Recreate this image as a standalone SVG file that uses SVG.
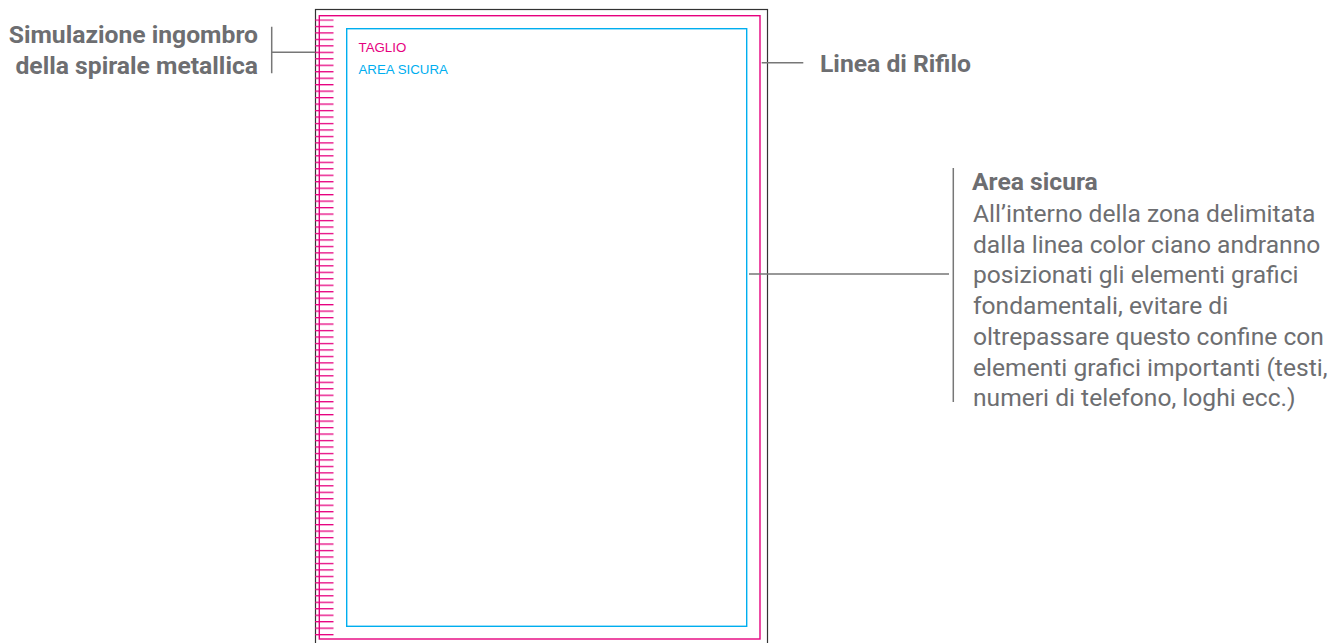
<svg xmlns="http://www.w3.org/2000/svg" width="1339" height="643" viewBox="0 0 1339 643">
<style>
.lbl{font-family:Roboto,"Liberation Sans",sans-serif;fill:#6d6e71}
.b{font-weight:bold;font-size:24.7px}
.r{font-size:24.6px}
.conn{stroke:#777;stroke-width:1.5;fill:none}
.small{font-family:"Liberation Sans",Arial,sans-serif;font-size:13.3px}
</style>
<defs>
<pattern id="spiral" x="0" y="19.35" width="20" height="6.47" patternUnits="userSpaceOnUse">
<rect x="0" y="0" width="20" height="1.3" fill="#e6007e"/>
</pattern>
</defs>
<rect width="1339" height="643" fill="#fff"/>
<g id="page">
<rect x="315.5" y="9.5" width="452" height="660" fill="none" stroke="#333" stroke-width="1.2"/>
<rect x="315" y="19.3" width="18.5" height="617" fill="url(#spiral)"/>
<rect x="319.3" y="15.7" width="440.7" height="623.3" fill="none" stroke="#e6007e" stroke-width="1.4"/>
<rect x="346.7" y="28.7" width="400" height="597.6" fill="none" stroke="#00aeef" stroke-width="1.4"/>
<text class="small" x="358.5" y="52" fill="#e6007e">TAGLIO</text>
<text class="small" x="358.5" y="73.5" fill="#00aeef">AREA SICURA</text>
</g>
<g id="connectors">
<path class="conn" d="M271.7 26.7V73.3M271.7 52.3H315"/>
<path class="conn" d="M761.7 62.7H803.3"/>
<path class="conn" d="M749 274H949M953.3 168V402"/>
</g>
<g id="label-spirale">
<text class="lbl b" x="258" y="43" text-anchor="end">Simulazione ingombro</text>
<text class="lbl b" x="258" y="73.5" text-anchor="end">della spirale metallica</text>
</g>
<g id="label-rifilo">
<text class="lbl b" x="820" y="72">Linea di Rifilo</text>
</g>
<g id="label-area">
<text class="lbl b" x="972" y="190">Area sicura</text>
<text class="lbl r" x="973" y="222">All’interno della zona delimitata</text>
<text class="lbl r" x="973" y="252.7">dalla linea color ciano andranno</text>
<text class="lbl r" x="973" y="283.4">posizionati gli elementi grafici</text>
<text class="lbl r" x="973" y="314.1">fondamentali, evitare di</text>
<text class="lbl r" x="973" y="344.8">oltrepassare questo confine con</text>
<text class="lbl r" x="973" y="375.5">elementi grafici importanti (testi,</text>
<text class="lbl r" x="973" y="406.2">numeri di telefono, loghi ecc.)</text>
</g>
</svg>
